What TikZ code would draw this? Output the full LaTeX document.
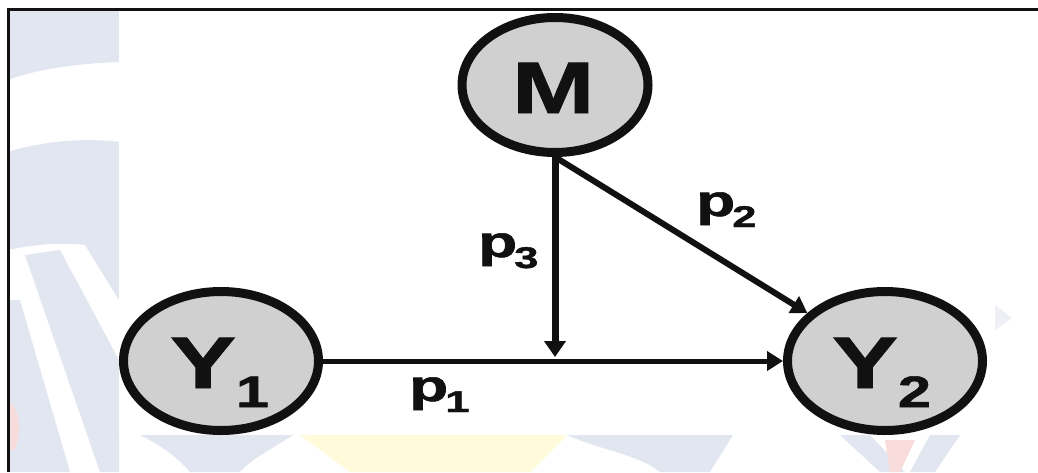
\documentclass[tikz,border=0pt]{standalone}
\usepackage{fontspec}
\setmainfont{Liberation Sans}
\newfontfamily\heavyfont{Liberation Sans}[BoldFeatures={FakeBold=1.2}]
\usetikzlibrary{arrows.meta,shapes.geometric}
\definecolor{wmblue}{RGB}{226,230,240}
\definecolor{wmyellow}{RGB}{255,250,218}
\definecolor{wmred}{RGB}{248,220,220}
\definecolor{nodefill}{RGB}{208,208,208}
\definecolor{ink}{RGB}{17,17,17}
\tikzset{
  var/.style={ellipse, draw=ink, fill=nodefill, line width=9pt, inner sep=0pt,
              minimum width=195pt, minimum height=139pt},
  lbl/.style={anchor=base west, inner sep=0pt, text=ink, font=\heavyfont\bfseries},
  path/.style={draw=ink, line width=5pt, -{Triangle[length=16pt,width=19pt]}},
}
\newcommand{\bigvar}[2]{\scalebox{1.35}[1]{\fontsize{73}{73}\selectfont #1\raisebox{-19pt}{\fontsize{44}{44}\selectfont #2}}}
\newcommand{\plabel}[1]{\scalebox{1.45}[1]{\fontsize{44}{44}\selectfont p\kern-2pt\raisebox{-11pt}{\fontsize{30}{30}\selectfont #1}}}
\begin{document}
\begin{tikzpicture}[x=1pt,y=-1pt]
\useasboundingbox (0,0) rectangle (1038,472);
\fill[white] (0,0) rectangle (1038,472);
% faint watermark
\fill[wmblue] (8,10) -- (119,10) -- (119,62) .. controls (70,64) and (35,70) .. (8,80) -- cycle;
\fill[wmblue] (8,152) .. controls (45,140) and (90,138) .. (119,142) -- (119,300) -- (85,245) .. controls (60,242) and (30,245) .. (8,250) -- cycle;
\fill[wmblue] (25,255) -- (60,250) -- (119,360) -- (119,472) -- (100,472) -- cycle;
\fill[wmblue] (8,300) -- (20,300) -- (70,472) -- (8,472) -- cycle;
\fill[wmred] (8,400) .. controls (20,410) and (22,430) .. (15,450) -- (8,450) -- cycle;
\fill[wmblue] (140,435) -- (293,435) .. controls (270,450) and (250,460) .. (240,472) -- (190,472) .. controls (175,455) and (160,445) .. (140,435) -- cycle;
\fill[wmyellow] (300,435) -- (567,435) -- (530,472) -- (350,472) -- cycle;
\fill[wmblue] (567,435) -- (733,435) -- (710,472) -- (660,472) .. controls (640,455) and (600,450) .. (567,435) -- cycle;
\fill[wmblue] (840,435) -- (870,435) -- (905,472) -- (880,472) -- cycle;
\fill[wmred] (885,440) -- (915,440) -- (900,472) -- (890,472) -- cycle;
\fill[wmblue] (930,435) -- (960,435) -- (935,472) -- (910,472) -- cycle;
\fill[wmblue!60] (995,305) -- (1012,318) -- (995,330) -- cycle;
% white picture area
\fill[white] (119,11) rectangle (991,435);
% frame
\draw[ink, line width=3pt] (1038,9) -- (8,9) -- (8,472);
% nodes
\node[var] (Y1) at (221,361) {};
\node[var] (Y2) at (885,361) {};
\node[var, minimum width=186pt, minimum height=135pt] (M) at (555,85) {};
\node[lbl] (Y1t) at (170,388) {\bigvar{Y}{1}};
\node[lbl] (Y2t) at (832,388) {\bigvar{Y}{2}};
\node[lbl] (Mt) at (512,113) {\scalebox{1.35}[1]{\fontsize{73}{73}\selectfont M}};
\coordinate (J) at (555,357);
% connectors
\draw[path] (Y1) -- (Y2);
\draw[path, line width=7pt, -{Triangle[length=16pt,width=21pt]}] (M.south) -- (J);
\draw[path, line width=6pt] (M.south) -- (Y2);
% labels
\node[lbl] (p1) at (409,401) {\plabel{1}};
\node[lbl] (p3) at (478,257) {\plabel{3}};
\node[lbl] (p2) at (696,216) {\plabel{2}};
\end{tikzpicture}
\end{document}
